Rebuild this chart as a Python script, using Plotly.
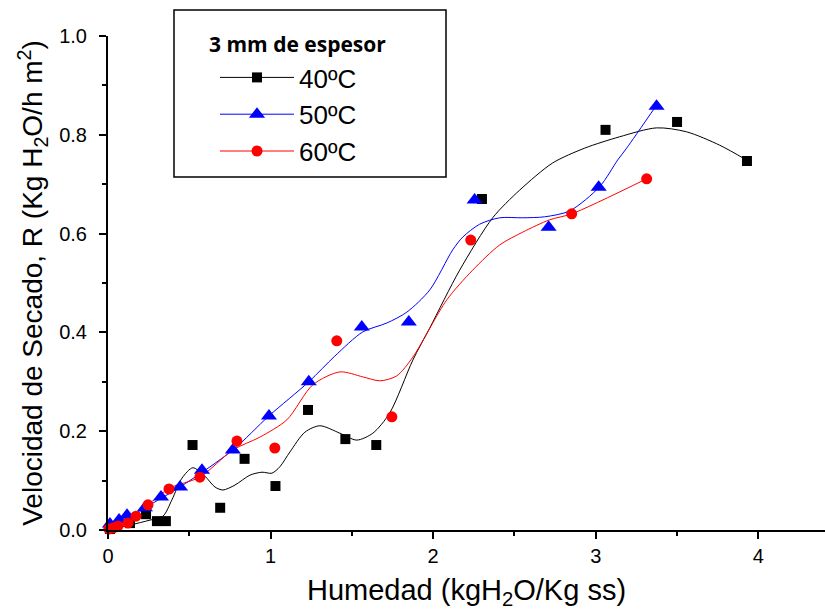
import plotly.graph_objects as go

# ---- data ----
x40 = [0.012, 0.135, 0.234, 0.301, 0.356, 0.52, 0.69, 0.84, 1.03, 1.23, 1.46, 1.65, 2.30, 3.06, 3.50, 3.93]
y40 = [0.002, 0.014, 0.032, 0.018, 0.018, 0.172, 0.045, 0.144, 0.089, 0.243, 0.184, 0.172, 0.670, 0.810, 0.826, 0.747]

x50 = [0.012, 0.068, 0.117, 0.227, 0.326, 0.443, 0.578, 0.768, 0.99, 1.235, 1.561, 1.85, 2.255, 2.71, 3.018, 3.374]
y50 = [0.012, 0.020, 0.030, 0.045, 0.067, 0.087, 0.121, 0.162, 0.231, 0.300, 0.411, 0.421, 0.668, 0.613, 0.694, 0.858]

x60 = [0.005, 0.031, 0.061, 0.123, 0.172, 0.246, 0.375, 0.565, 0.793, 1.026, 1.407, 1.746, 2.231, 2.852, 3.313]
y60 = [0.002, 0.004, 0.008, 0.014, 0.028, 0.051, 0.083, 0.107, 0.180, 0.166, 0.383, 0.229, 0.587, 0.640, 0.711]

# smoothed fit curves
cx40 = [0, 0.135, 0.258, 0.338, 0.393, 0.455, 0.522, 0.596, 0.658, 0.707, 0.781, 0.873, 0.947, 1.008, 1.057,
        1.119, 1.211, 1.303, 1.426, 1.530, 1.629, 1.733, 1.875, 1.979, 2.163, 2.366, 2.532, 2.735, 2.932,
        3.147, 3.374, 3.559, 3.762, 3.927]
cy40 = [0, 0.010, 0.020, 0.028, 0.061, 0.105, 0.126, 0.109, 0.087, 0.081, 0.091, 0.111, 0.117, 0.115, 0.128,
        0.158, 0.198, 0.211, 0.196, 0.182, 0.196, 0.237, 0.344, 0.409, 0.526, 0.632, 0.688, 0.743, 0.773,
        0.796, 0.814, 0.806, 0.779, 0.749]

cx50 = [0, 0.227, 0.443, 0.768, 0.990, 1.235, 1.395, 1.567, 1.715, 1.838, 1.979, 2.120, 2.182, 2.286, 2.409,
        2.551, 2.686, 2.840, 3.024, 3.135, 3.190, 3.374]
cy50 = [0, 0.045, 0.087, 0.162, 0.231, 0.300, 0.352, 0.401, 0.419, 0.441, 0.486, 0.567, 0.593, 0.619, 0.632,
        0.632, 0.634, 0.646, 0.695, 0.749, 0.773, 0.860]

cx60 = [0, 0.123, 0.246, 0.381, 0.565, 0.768, 0.934, 1.100, 1.260, 1.426, 1.567, 1.672, 1.776, 1.875, 2.084,
        2.243, 2.409, 2.551, 2.717, 2.852, 3.313]
cy60 = [0, 0.016, 0.051, 0.085, 0.107, 0.162, 0.188, 0.223, 0.294, 0.320, 0.310, 0.302, 0.312, 0.350, 0.466,
        0.526, 0.577, 0.603, 0.628, 0.640, 0.711]

names = ["40ºC", "50ºC", "60ºC"]
colors = ["#000000", "#0000FF", "#FF0000"]
symbols = ["square", "triangle-up", "circle"]
msizes = [10, 14, 11]

series = [(x40, y40, cx40, cy40), (x50, y50, cx50, cy50), (x60, y60, cx60, cy60)]

fig = go.Figure()
for i, (px, py, cx, cy) in enumerate(series):
    fig.add_trace(go.Scatter(x=cx, y=cy, mode="lines", line=dict(color=colors[i], width=1, shape="spline", smoothing=0.8),
                             showlegend=False, hoverinfo="skip", cliponaxis=False))
for i, (px, py, cx, cy) in enumerate(series):
    fig.add_trace(go.Scatter(x=px, y=py, mode="markers",
                             marker=dict(symbol=symbols[i], color=colors[i], size=msizes[i], line=dict(width=0)),
                             showlegend=False, cliponaxis=False))
for i in range(3):
    fig.add_trace(go.Scatter(x=[None], y=[None], mode="lines+markers", name=names[i], legendgroup=names[i],
                             line=dict(color=colors[i], width=1),
                             marker=dict(symbol=symbols[i], color=colors[i], size=msizes[i], line=dict(width=0))))

FONT = "Liberation Sans, Arial"
axis_font = dict(family=FONT, size=20, color="black")
fig.update_layout(
    width=825, height=612,
    margin=dict(l=108, r=0, t=36, b=82),
    plot_bgcolor="white", paper_bgcolor="white",
    xaxis=dict(range=[0, 4.41], dtick=1, tick0=0, showgrid=False, zeroline=False,
               showline=True, linecolor="black", linewidth=2,
               ticks="outside", ticklen=7, tickwidth=2, tickcolor="black", tickfont=axis_font,
               minor=dict(dtick=0.5, ticks="outside", ticklen=4, tickwidth=2, tickcolor="black"),
               title=dict(text="Humedad (kgH<sub>2</sub>O/Kg ss)", font=dict(family=FONT, size=29, color="black"), standoff=14)),
    yaxis=dict(range=[0, 1.0], dtick=0.2, tick0=0, tickformat=".1f", showgrid=False, zeroline=False,
               showline=True, linecolor="black", linewidth=2,
               ticks="outside", ticklen=7, tickwidth=2, tickcolor="black", tickfont=axis_font,
               ticklabelstandoff=8,
               minor=dict(dtick=0.1, ticks="outside", ticklen=4, tickwidth=2, tickcolor="black"),
               title=dict(text="Velocidad de Secado, R (Kg H<sub>2</sub>O/h m<sup>2</sup>)", font=dict(family=FONT, size=28, color="black"), standoff=8)),
    legend=dict(x=(215 - 108) / 717, y=(530 - 54) / 494, xanchor="left", yanchor="top", bgcolor="rgba(0,0,0,0)", borderwidth=0,
                font=dict(family=FONT, size=26, color="black"),
                itemwidth=74, tracegroupgap=0),
    shapes=[dict(type="rect", xref="paper", yref="paper", x0=(174 - 108) / 717, x1=(446 - 108) / 717,
                 y0=(530 - 177) / 494, y1=(530 - 10) / 494,
                 line=dict(color="black", width=1.5), fillcolor="rgba(0,0,0,0)")],
    annotations=[dict(text="<b>3 mm de espesor</b>", xref="paper", yref="paper", x=(207 - 108) / 717, y=(530 - 44) / 494,
                      xanchor="left", yanchor="middle", showarrow=False,
                      font=dict(family="Open Sans, Liberation Sans", size=21, color="black"))],
)

fig.write_html("out.html")
